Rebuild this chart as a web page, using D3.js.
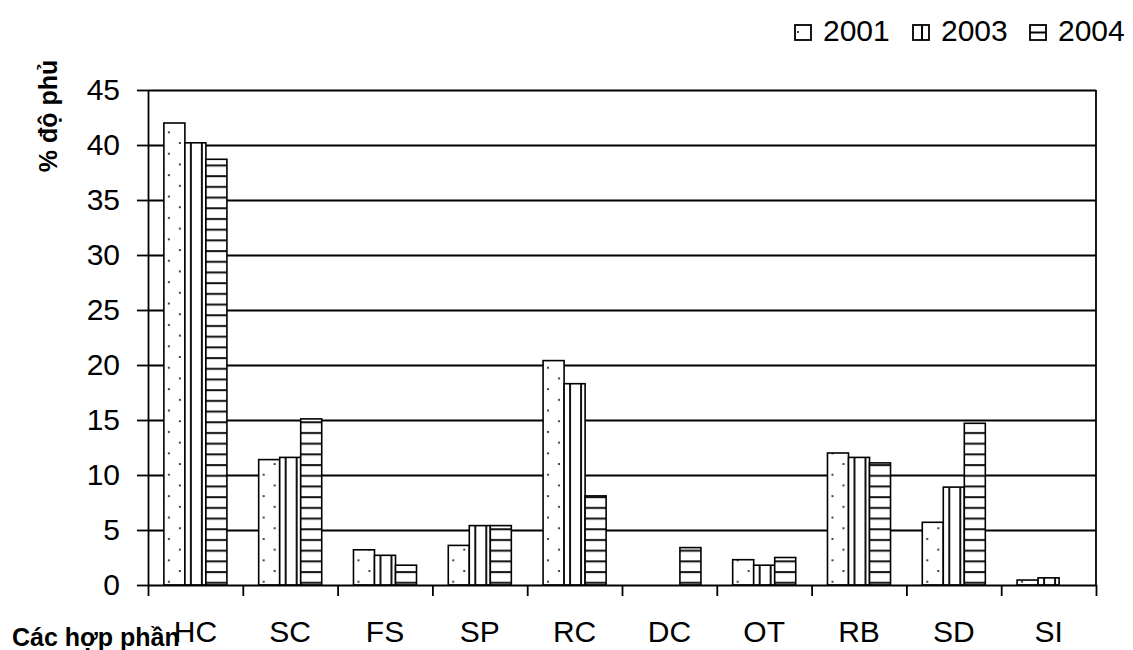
<!DOCTYPE html>
<html>
<head>
<meta charset="utf-8">
<script src="https://cdn.jsdelivr.net/npm/d3@7"></script>
<style>
  html, body { margin: 0; padding: 0; background: #fff; }
  svg { display: block; font-family: "Liberation Sans", Arial, sans-serif; }
</style>
</head>
<body>
<svg id="chart" width="1133" height="650"></svg>
<script>
// Coverage (%) of each component, by survey year
const categories = ["HC", "SC", "FS", "SP", "RC", "DC", "OT", "RB", "SD", "SI"];
const years = ["2001", "2003", "2004"];
const values2001 = [42.0, 11.4, 3.2, 3.6, 20.4, 0, 2.3, 12.0, 5.7, 0.45];
const values2003 = [40.2, 11.6, 2.7, 5.4, 18.3, 0, 1.8, 11.6, 8.9, 0.65];
const values2004 = [38.7, 15.1, 1.8, 5.4, 8.1, 3.4, 2.5, 11.1, 14.7, 0];
const yTicks = [0, 5, 10, 15, 20, 25, 30, 35, 40, 45];

const seriesValues = { "2001": values2001, "2003": values2003, "2004": values2004 };

const svg = d3.select("#chart");
const plotLeft = 148, plotRight = 1096, plotTop = 90, plotBottom = 585;
const FONT = "Liberation Sans, Arial, sans-serif";

const x = d3.scaleBand().domain(categories).range([plotLeft, plotRight])
  .paddingInner(0.335).paddingOuter(0.1675);
const x1 = d3.scaleBand().domain(years).range([0, x.bandwidth()]);
const y = d3.scaleLinear().domain([0, 45]).range([plotBottom, plotTop]);
const edge = d3.scaleLinear().domain([0, categories.length]).range([plotLeft, plotRight]);

// Fill patterns for the three series
const defs = svg.append("defs");
const pDots = defs.append("pattern").attr("id", "p2001")
  .attr("patternUnits", "userSpaceOnUse").attr("width", 22).attr("height", 21.4);
pDots.append("rect").attr("width", 22).attr("height", 21.4).attr("fill", "#fff");
pDots.append("circle").attr("cx", 5).attr("cy", 4).attr("r", 1.1).attr("fill", "#222");
pDots.append("circle").attr("cx", 16).attr("cy", 14.7).attr("r", 1.1).attr("fill", "#222");

const pV = defs.append("pattern").attr("id", "p2003")
  .attr("patternUnits", "userSpaceOnUse").attr("width", 11).attr("height", 10);
pV.append("rect").attr("width", 11).attr("height", 10).attr("fill", "#fff");
pV.append("line").attr("x1", 5).attr("x2", 5).attr("y1", 0).attr("y2", 10)
  .attr("stroke", "#111").attr("stroke-width", 2);

const pH = defs.append("pattern").attr("id", "p2004")
  .attr("patternUnits", "userSpaceOnUse").attr("width", 10).attr("height", 10.7);
pH.append("rect").attr("width", 10).attr("height", 10.7).attr("fill", "#fff");
pH.append("line").attr("x1", 0).attr("x2", 10).attr("y1", 5).attr("y2", 5)
  .attr("stroke", "#111").attr("stroke-width", 2);

// Horizontal gridlines
svg.append("g")
  .attr("transform", `translate(${plotLeft},0)`)
  .call(d3.axisLeft(y).tickValues(yTicks.filter(t => t > 0)).tickSize(-(plotRight - plotLeft)).tickFormat(""))
  .call(g => g.select(".domain").remove())
  .call(g => g.selectAll("line").attr("stroke", "#000").attr("stroke-width", 1.8));

// Right border of the plot area
svg.append("line")
  .attr("x1", plotRight).attr("x2", plotRight).attr("y1", y(45)).attr("y2", y(0))
  .attr("stroke", "#000").attr("stroke-width", 1.8);

// Bars
const groups = svg.append("g").selectAll("g")
  .data(categories)
  .join("g")
  .attr("transform", d => `translate(${x(d)},0)`);

groups.selectAll("rect")
  .data((c, i) => years.map(yr => ({ yr, v: seriesValues[yr][i] })).filter(d => d.v > 0))
  .join("rect")
  .attr("x", d => x1(d.yr))
  .attr("y", d => y(d.v))
  .attr("width", x1.bandwidth())
  .attr("height", d => y(0) - y(d.v))
  .attr("fill", d => `url(#p${d.yr})`)
  .attr("stroke", "#000")
  .attr("stroke-width", 1.6);

// Y axis
svg.append("g")
  .attr("transform", `translate(${plotLeft},0)`)
  .call(d3.axisLeft(y).tickValues(yTicks).tickSize(11).tickPadding(17).tickSizeOuter(0))
  .call(g => g.selectAll("line, path").attr("stroke", "#000").attr("stroke-width", 1.8))
  .call(g => g.selectAll("text").attr("font-size", 30).attr("fill", "#000").attr("font-family", FONT));

// X axis line and boundary ticks
svg.append("g")
  .attr("transform", `translate(0,${plotBottom})`)
  .call(d3.axisBottom(edge).tickValues(d3.range(categories.length + 1)).tickSize(11).tickSizeOuter(0).tickFormat(""))
  .call(g => g.selectAll("line, path").attr("stroke", "#000").attr("stroke-width", 1.8));

// Category labels
svg.append("g")
  .attr("transform", `translate(0,${plotBottom})`)
  .call(d3.axisBottom(x).tickSize(0).tickPadding(36))
  .call(g => g.select(".domain").remove())
  .call(g => g.selectAll("text").attr("font-size", 30).attr("fill", "#000").attr("font-family", FONT));

// Axis titles
svg.append("text")
  .attr("transform", "translate(57,116) rotate(-90)")
  .attr("text-anchor", "middle")
  .attr("font-size", 25).attr("font-weight", "bold")
  .text("% độ phủ");

svg.append("text")
  .attr("x", 12).attr("y", 646)
  .attr("font-size", 25).attr("font-weight", "bold")
  .text("Các hợp phần");

// Legend
const legendX = [795, 913, 1030];
const legend = svg.append("g").selectAll("g")
  .data(years)
  .join("g")
  .attr("transform", (d, i) => `translate(${legendX[i]},0)`);

legend.append("rect")
  .attr("x", 0).attr("y", 25).attr("width", 16).attr("height", 15)
  .attr("fill", "#fff").attr("stroke", "#000").attr("stroke-width", 1.8);
legend.filter(d => d === "2001").append("circle")
  .attr("cx", 3).attr("cy", 32).attr("r", 1).attr("fill", "#000");
legend.filter(d => d === "2003").append("line")
  .attr("x1", 9).attr("x2", 9).attr("y1", 25).attr("y2", 40)
  .attr("stroke", "#000").attr("stroke-width", 2);
legend.filter(d => d === "2004").append("line")
  .attr("x1", 0).attr("x2", 16).attr("y1", 32.5).attr("y2", 32.5)
  .attr("stroke", "#000").attr("stroke-width", 2);
legend.append("text")
  .attr("x", 28).attr("y", 41)
  .attr("font-size", 30)
  .text(d => d);
</script>
</body>
</html>
